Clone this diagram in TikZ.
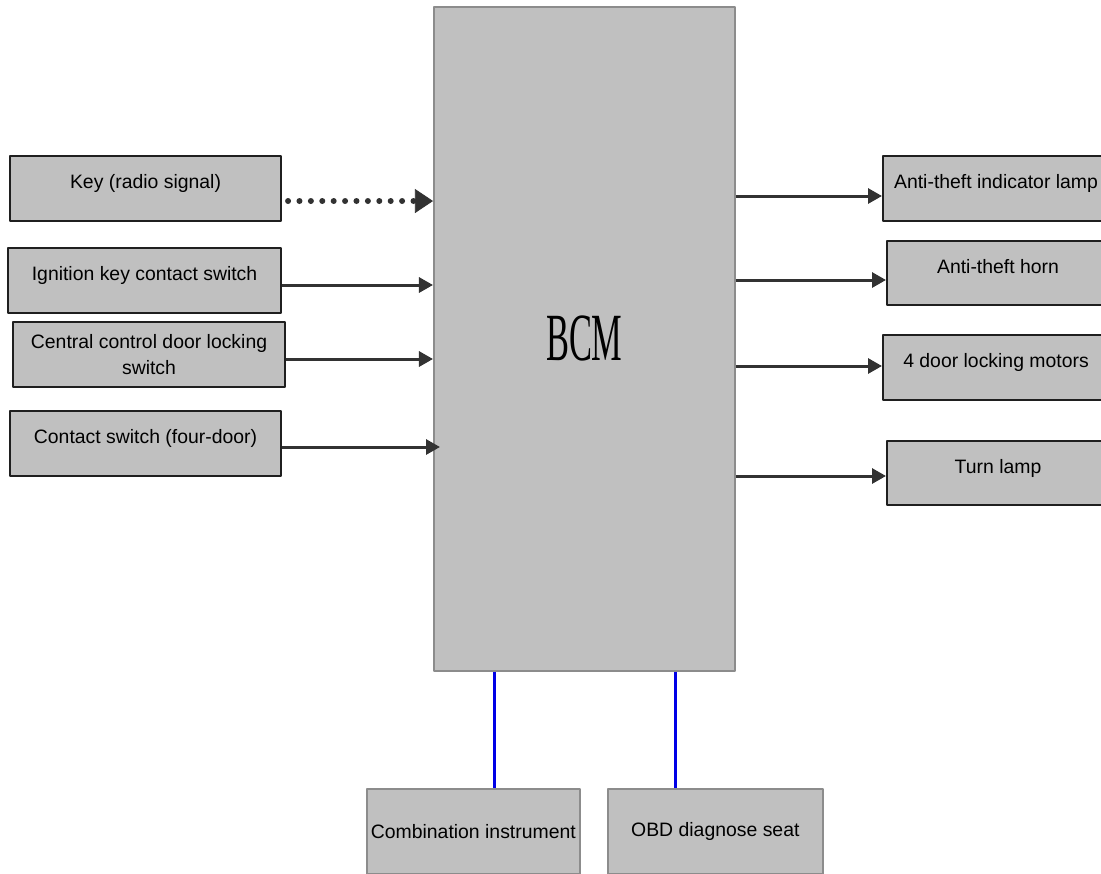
\documentclass[tikz,border=0pt]{standalone}
\usepackage{fontspec}
\setmainfont{Liberation Sans}
\newfontfamily\bcmfont{Liberation Serif}
\usetikzlibrary{arrows.meta}
\definecolor{boxgray}{RGB}{192,192,192}
\definecolor{edgegray}{RGB}{140,140,140}
\definecolor{wiregray}{RGB}{50,50,50}
\definecolor{busblue}{RGB}{0,0,230}
\tikzset{
  blk/.style={draw=black!88, line width=0.05cm, fill=boxgray, inner sep=0pt,
    minimum height=1.625cm, font=\fontsize{13.8pt}{18.5pt}\selectfont,
    text height=0.4cm, text depth=0.4cm, anchor=north west},
  blkpale/.style={draw=edgegray, line width=0.04cm, fill=boxgray, inner sep=0pt,
    font=\fontsize{13.8pt}{18.5pt}\selectfont, anchor=north west},
  arr/.style={draw=wiregray, line width=0.075cm, -{Triangle[length=0.35cm,width=0.375cm]}},
  radio/.style={draw=wiregray, line width=0.15cm, line cap=round,
    dash pattern=on 0pt off 0.285cm,
    -{Triangle[length=0.45cm,width=0.6cm,line width=0.5pt]}},
  bus/.style={draw=busblue, line width=0.075cm}
}
\begin{document}
\begin{tikzpicture}[x=0.025cm, y=-0.025cm, line join=round]
  \path[use as bounding box, clip] (0,0) rectangle (1101,874);
  % body control module
  \node[blkpale, minimum width=7.525cm, minimum height=16.6cm] (bcm) at (433,6)
    {\scalebox{0.51}[1]{\bcmfont\fontsize{48pt}{50pt}\selectfont BCM}};
  % inputs
  \node[blk, minimum width=6.775cm] (key) at (9,155) {Key (radio signal)};
  \node[blk, minimum width=6.825cm] (ign) at (7,247) {Ignition key contact switch};
  \node[blk, minimum width=6.8cm, text height=, text depth=, align=center] (cen) at (12,321)
    {Central control door locking\\switch};
  \node[blk, minimum width=6.775cm] (con) at (9,410) {Contact switch (four-door)};
  % outputs
  \node[blk, minimum width=5.65cm] (ind) at (882,155) {Anti-theft indicator lamp};
  \node[blk, minimum width=5.55cm, minimum height=1.6cm] (horn) at (886,240) {Anti-theft horn};
  \node[blk, minimum width=5.65cm] (mot) at (882,334) {4 door locking motors};
  \node[blk, minimum width=5.55cm, minimum height=1.6cm] (turn) at (886,440) {Turn lamp};
  % bus devices
  \node[blkpale, minimum width=5.325cm, minimum height=2.125cm] (comb) at (366,788) {Combination instrument};
  \node[blkpale, minimum width=5.375cm, minimum height=2.125cm] (obd) at (607,788) {OBD diagnose seat};
  % signals in
  \draw[radio] ([xshift=0.15cm,yshift=-0.3125cm]key.east) -- ([yshift=-0.3125cm]key.east -| bcm.west);
  \draw[arr] ([yshift=-0.1125cm]ign.east) -- ([yshift=-0.1125cm]ign.east -| bcm.west);
  \draw[arr] ([yshift=-0.1125cm]cen.east) -- ([yshift=-0.1125cm]cen.east -| bcm.west);
  \draw[arr] ([yshift=-0.0875cm]con.east) -- ([xshift=0.175cm,yshift=-0.0875cm]con.east -| bcm.west);
  % signals out
  \draw[arr] ([yshift=-0.1875cm]ind.west -| bcm.east) -- ([yshift=-0.1875cm]ind.west);
  \draw[arr] ([yshift=-0.175cm]horn.west -| bcm.east) -- ([yshift=-0.175cm]horn.west);
  \draw[arr] ([yshift=0.0375cm]mot.west -| bcm.east) -- ([yshift=0.0375cm]mot.west);
  \draw[arr] ([yshift=-0.075cm]turn.west -| bcm.east) -- ([yshift=-0.075cm]turn.west);
  % bus lines
  \draw[bus] ([xshift=0.5375cm]comb.north |- bcm.south) -- ([xshift=0.5375cm]comb.north);
  \draw[bus] ([xshift=-0.9875cm]obd.north |- bcm.south) -- ([xshift=-0.9875cm]obd.north);
\end{tikzpicture}
\end{document}
